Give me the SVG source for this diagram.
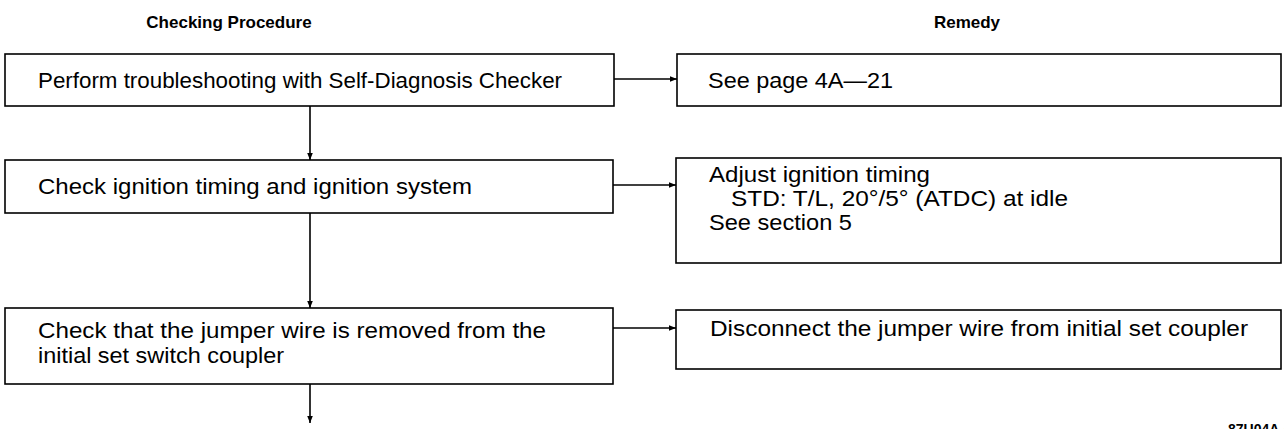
<svg xmlns="http://www.w3.org/2000/svg" width="1284" height="429" viewBox="0 0 1284 429">
<defs>
<style>
.box{fill:#fff;stroke:#000;stroke-width:1.6}
.t{font-family:"Liberation Sans",Arial,sans-serif;font-size:22px;fill:#000}
.h{font-family:"Liberation Sans",Arial,sans-serif;font-size:17px;font-weight:bold;fill:#000}
.c{stroke:#000;stroke-width:1.6;fill:none}
</style>
<marker id="ar" viewBox="0 0 10 10" refX="10" refY="5" markerWidth="10" markerHeight="7" markerUnits="userSpaceOnUse" orient="auto">
<path d="M0,1 L10,5 L0,9 z" fill="#000"/>
</marker>
</defs>
<rect width="1284" height="429" fill="#fff"/>
<text class="h" x="229" y="28" text-anchor="middle">Checking Procedure</text>
<text class="h" x="967" y="28" text-anchor="middle">Remedy</text>
<g id="n1"><rect class="box" x="5" y="54" width="609" height="52"/><text class="t" x="38" y="88" textLength="524" lengthAdjust="spacingAndGlyphs">Perform troubleshooting with Self-Diagnosis Checker</text></g>
<g id="r1"><rect class="box" x="677" y="54" width="604" height="52"/><text class="t" x="708" y="88" textLength="185" lengthAdjust="spacingAndGlyphs">See page 4A—21</text></g>
<g id="n2"><rect class="box" x="5" y="160" width="608" height="53"/><text class="t" x="38" y="194" textLength="434" lengthAdjust="spacingAndGlyphs">Check ignition timing and ignition system</text></g>
<g id="r2"><rect class="box" x="676" y="158" width="605" height="105"/><text class="t" x="709" y="182" textLength="221" lengthAdjust="spacingAndGlyphs">Adjust ignition timing</text><text class="t" x="731" y="206" textLength="337" lengthAdjust="spacingAndGlyphs">STD: T/L, 20°/5° (ATDC) at idle</text><text class="t" x="709" y="230" textLength="143" lengthAdjust="spacingAndGlyphs">See section 5</text></g>
<g id="n3"><rect class="box" x="5" y="308" width="608" height="76"/><text class="t" x="38" y="338" textLength="508" lengthAdjust="spacingAndGlyphs">Check that the jumper wire is removed from the</text><text class="t" x="38" y="363" textLength="246" lengthAdjust="spacingAndGlyphs">initial set switch coupler</text></g>
<g id="r3"><rect class="box" x="676" y="310" width="605" height="59"/><text class="t" x="710" y="336" textLength="538" lengthAdjust="spacingAndGlyphs">Disconnect the jumper wire from initial set coupler</text></g>
<g id="connectors">
<line class="c" x1="614" y1="79" x2="677" y2="79" marker-end="url(#ar)"/>
<line class="c" x1="613" y1="185" x2="676" y2="185" marker-end="url(#ar)"/>
<line class="c" x1="613" y1="328" x2="676" y2="328" marker-end="url(#ar)"/>
<line class="c" x1="310" y1="106" x2="310" y2="160" marker-end="url(#ar)"/>
<line class="c" x1="310" y1="213" x2="310" y2="308" marker-end="url(#ar)"/>
<line class="c" x1="310" y1="384" x2="310" y2="423" marker-end="url(#ar)"/>
</g>
<text x="1228" y="434" style="font-family:'Liberation Sans',Arial,sans-serif;font-size:14px;font-weight:bold" fill="#000">87U04A-012</text>
</svg>
